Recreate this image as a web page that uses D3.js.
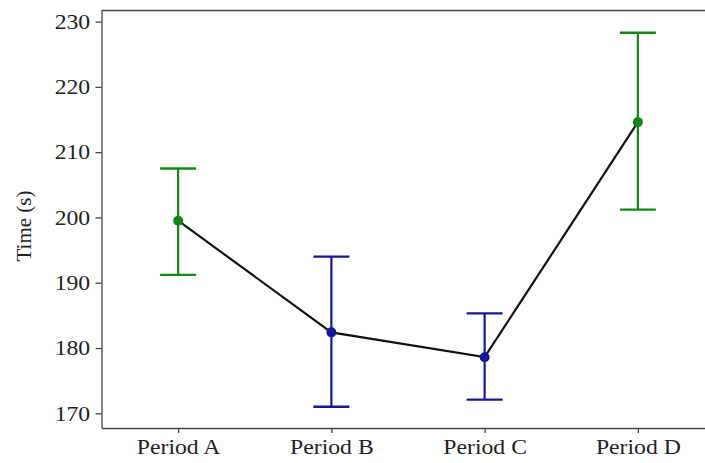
<!DOCTYPE html>
<html>
<head>
<meta charset="UTF-8">
<style>
  body { margin: 0; background: #fff; }
  text { font-family: "Liberation Serif", "Times New Roman", serif; fill: #222; }
  .axis path, .axis line { stroke: #444; stroke-width: 1.3; }
</style>
</head>
<body>
<script src="https://d3js.org/d3.v7.min.js"></script>
<script>
// chart values
var periods = ["Period A", "Period B", "Period C", "Period D"];
var means   = [199.5, 182.4, 178.6, 214.6];
var upper   = [207.5, 194.0, 185.3, 228.3];
var lower   = [191.2, 171.0, 172.1, 201.2];
var groups  = ["green", "blue", "blue", "green"];
var yTicks  = [170, 180, 190, 200, 210, 220, 230];

var colors = { green: "#118811", blue: "#16169a" };

var W = 705, H = 463;
var plotLeft = 101.5, plotTop = 10.5, plotBottom = 428, plotRight = 714.5;
var stretch = "scale(1.13,1)"; // source picture is a bit wider than tall

var svg = d3.select("body").append("svg")
  .attr("width", W).attr("height", H);

var x = d3.scalePoint().domain(periods).range([plotLeft, plotRight]).padding(0.5);
var y = d3.scaleLinear().domain([167.75, 231.7]).range([plotBottom, plotTop]);

// axes
svg.append("g")
  .attr("class", "axis")
  .attr("transform", "translate(" + plotLeft + ",0)")
  .call(d3.axisLeft(y).tickValues(yTicks).tickSize(6).tickSizeOuter(0).tickPadding(4))
  .call(function(g) {
    g.selectAll("text").style("font-size", "21px").attr("transform", stretch);
  });

svg.append("g")
  .attr("class", "axis")
  .attr("transform", "translate(0," + plotBottom + ")")
  .call(d3.axisBottom(x).tickSize(5).tickSizeOuter(0).tickPadding(6))
  .call(function(g) {
    g.selectAll("text").style("font-size", "21px").attr("transform", stretch);
  });

// top frame line
svg.append("line")
  .attr("x1", plotLeft).attr("x2", W)
  .attr("y1", plotTop).attr("y2", plotTop)
  .attr("stroke", "#444").attr("stroke-width", 1.3);

// y label
svg.append("text")
  .attr("transform", "translate(31," + 226 + ") rotate(-90)")
  .attr("text-anchor", "middle")
  .style("font-size", "21px")
  .text("Time (s)");

var data = periods.map(function(p, i) {
  return { p: p, m: means[i], hi: upper[i], lo: lower[i], c: colors[groups[i]] };
});

// connecting line
svg.append("path")
  .datum(data)
  .attr("fill", "none")
  .attr("stroke", "#111")
  .attr("stroke-width", 2.2)
  .attr("d", d3.line().x(function(d) { return x(d.p); }).y(function(d) { return y(d.m); }));

// error bars
var bars = svg.selectAll(".err").data(data).enter().append("g").attr("class", "err");
var cap = 18;
bars.append("line")
  .attr("x1", function(d) { return x(d.p); }).attr("x2", function(d) { return x(d.p); })
  .attr("y1", function(d) { return y(d.hi); }).attr("y2", function(d) { return y(d.lo); })
  .attr("stroke", function(d) { return d.c; }).attr("stroke-width", 2.2);
bars.append("line")
  .attr("x1", function(d) { return x(d.p) - cap; }).attr("x2", function(d) { return x(d.p) + cap; })
  .attr("y1", function(d) { return y(d.hi); }).attr("y2", function(d) { return y(d.hi); })
  .attr("stroke", function(d) { return d.c; }).attr("stroke-width", 2.4);
bars.append("line")
  .attr("x1", function(d) { return x(d.p) - cap; }).attr("x2", function(d) { return x(d.p) + cap; })
  .attr("y1", function(d) { return y(d.lo); }).attr("y2", function(d) { return y(d.lo); })
  .attr("stroke", function(d) { return d.c; }).attr("stroke-width", 2.4);

// points
svg.selectAll(".pt").data(data).enter().append("circle")
  .attr("class", "pt")
  .attr("cx", function(d) { return x(d.p); })
  .attr("cy", function(d) { return y(d.m); })
  .attr("r", 5)
  .attr("fill", function(d) { return d.c; });
</script>
</body>
</html>
